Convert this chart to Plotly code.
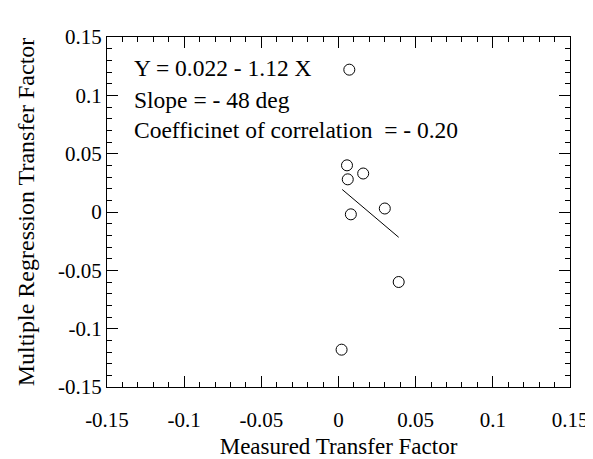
import plotly.graph_objects as go

# Data
measured = [0.007, 0.0055, 0.006, 0.016, 0.008, 0.030, 0.039, 0.002]
predicted = [0.122, 0.040, 0.028, 0.033, -0.002, 0.003, -0.060, -0.118]

intercept = 0.022
slope = -1.12
fit_x = [0.0024, 0.039]
fit_y = [intercept + slope * v for v in fit_x]

tick_vals = [-0.15, -0.1, -0.05, 0, 0.05, 0.1, 0.15]
tick_text = ["-0.15", "-0.1", "-0.05", "0", "0.05", "0.1", "0.15"]

text_lines = [
    "Y = 0.022 - 1.12 X",
    "Slope = - 48 deg",
    "Coefficinet of correlation &nbsp;= - 0.20",
]
text_y = [0.912, 0.821, 0.735]

FONT = "Liberation Serif, Times New Roman, serif"

fig = go.Figure()
fig.add_trace(go.Scatter(
    x=measured, y=predicted, mode="markers",
    marker=dict(symbol="circle-open", size=11, color="black", line=dict(width=1, color="black")),
    showlegend=False,
))
fig.add_trace(go.Scatter(
    x=fit_x, y=fit_y, mode="lines",
    line=dict(color="black", width=1),
    showlegend=False,
))

for t, yy in zip(text_lines, text_y):
    fig.add_annotation(
        x=0.054, y=yy, xref="paper", yref="paper",
        text=t, showarrow=False, xanchor="left", yanchor="middle",
        font=dict(family=FONT, size=23.5, color="black"),
    )

axis_common = dict(
    showgrid=False, zeroline=False, showline=True, linecolor="black", linewidth=1,
    mirror="allticks", ticks="inside", ticklen=11, tickwidth=1, tickcolor="black",
    tickvals=tick_vals, ticktext=tick_text, automargin=False,
    tickfont=dict(family=FONT, size=21, color="black"),
    minor=dict(ticks="inside", ticklen=5, tickwidth=1, tickcolor="black", dtick=0.01, showgrid=False),
)

fig.update_xaxes(
    range=[-0.15, 0.15], **axis_common, ticklabelstandoff=14,
    title=dict(text="Measured Transfer Factor", font=dict(family=FONT, size=23, color="black"), standoff=11),
)
fig.update_yaxes(
    range=[-0.15, 0.15], **axis_common,
    title=dict(text="Multiple Regression Transfer Factor", font=dict(family=FONT, size=24, color="black"), standoff=16),
)

# The page body adds an 8px offset, so the figure is sized to fit the window.
fig.update_layout(
    width=585, height=451,
    margin=dict(l=99, r=23, t=29, b=72),
    plot_bgcolor="white", paper_bgcolor="white",
)

fig.write_html("out.html")
